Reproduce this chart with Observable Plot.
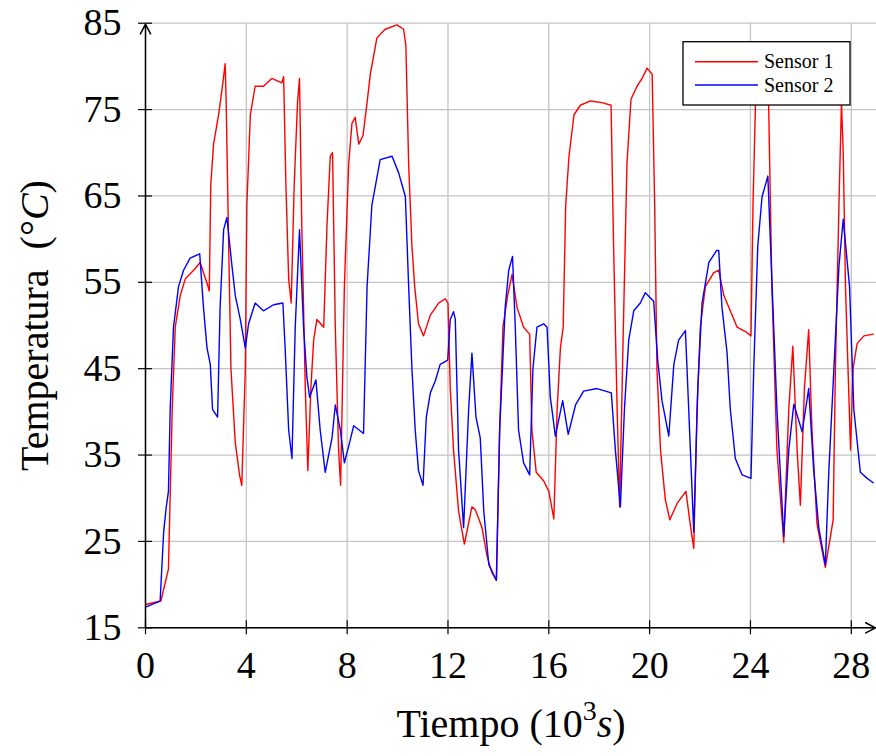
<!DOCTYPE html>
<html>
<head>
<meta charset="utf-8">
<script src="https://cdn.jsdelivr.net/npm/d3@7"></script>
<script src="https://cdn.jsdelivr.net/npm/@observablehq/plot@0.6"></script>
<style>
  html, body { margin: 0; padding: 0; background: #fff; }
  #chart { width: 876px; height: 756px; }
  #chart svg, #chart svg text { font-family: "Liberation Serif", "Times New Roman", "DejaVu Serif", serif !important; }
</style>
</head>
<body>
<div id="chart"></div>
<script>
// ---- data (time in 10^3 s, temperature in °C) ----
const seriesNames = ["Sensor 1", "Sensor 2"];
const seriesColors = ["#ff0000", "#0000ff"];

const s1Time = [0,0.3,0.61,0.91,1.06,1.18,1.38,1.58,1.91,2.17,2.3,2.43,2.53,2.59,2.7,2.9,3.03,3.16,3.2,3.3,3.39,3.56,3.73,3.82,3.96,4.02,4.16,4.35,4.68,5.01,5.41,5.48,5.57,5.68,5.78,5.9,6.03,6.11,6.2,6.34,6.44,6.56,6.67,6.8,7.07,7.2,7.33,7.42,7.53,7.66,7.74,7.89,8.06,8.19,8.32,8.46,8.63,8.79,8.92,9.18,9.51,9.98,10.24,10.33,10.44,10.57,10.68,10.83,11.03,11.3,11.63,11.89,12.0,12.09,12.22,12.42,12.65,12.95,13.08,13.35,13.55,13.74,13.92,14.05,14.18,14.37,14.54,14.74,15.0,15.24,15.33,15.5,15.8,16.0,16.2,16.33,16.46,16.57,16.67,16.8,17.0,17.25,17.65,18.11,18.47,18.57,18.71,18.81,18.94,19.1,19.26,19.5,19.7,19.9,20.1,20.2,20.29,20.43,20.62,20.8,21.09,21.44,21.61,21.75,21.88,22.01,22.21,22.54,22.74,22.94,23.2,23.47,23.8,24.02,24.1,24.2,24.3,24.5,24.65,24.72,24.85,25.05,25.32,25.52,25.68,25.85,25.98,26.14,26.31,26.44,26.64,26.97,27.28,27.37,27.51,27.61,27.68,27.77,27.97,28.07,28.23,28.5,28.87];
const s1Temp = [17.7,17.9,18.1,21.8,40.3,49.8,53.5,55.4,56.4,57.3,56.1,55,54,66.3,71,74.4,77.2,80.3,76,59.2,45,36.5,32.7,31.5,45,63.9,74.4,77.7,77.7,78.6,78.1,78.8,66.3,55.4,52.6,66.3,75.8,78.6,61.6,42.7,33.2,42.7,48.3,50.7,49.8,61.6,69.6,70,49.8,35.6,31.5,54.5,68.7,73.4,74.1,71.0,72.0,75.8,79.1,83.3,84.3,84.8,84.3,82.4,68.7,59.2,54.5,50.2,48.8,51.2,52.6,53.1,52.6,42.7,35.6,28.5,24.7,29,28.7,26.6,23.3,21.4,20.5,37.9,49.8,53.5,55.9,52.1,49.8,49,37.9,33,32,30.8,27.6,40.3,47.4,49.8,63.9,69.6,74.4,75.5,76.0,75.8,75.5,59.2,40.3,29,47.4,68.7,76.2,77.7,78.6,79.8,79.1,63.9,45,35.6,29.9,27.5,29.4,30.8,27,24.2,40.3,49.8,54.5,56.1,56.4,53.5,51.7,49.8,49.3,48.8,63.9,75.8,80,81.5,80,75.8,54.5,35.6,24.9,40.3,47.6,35.6,29.2,42.7,49.5,37.9,27,22,27.5,45,63.9,75.8,70,54.5,35.6,45,47.9,48.8,49];

const s2Time = [0,0.58,0.72,0.82,0.91,0.98,1.11,1.31,1.51,1.77,2.15,2.3,2.44,2.57,2.66,2.86,2.96,3.1,3.23,3.43,3.56,3.76,3.96,4.09,4.35,4.68,5.08,5.45,5.54,5.68,5.81,5.94,6.11,6.27,6.4,6.51,6.76,6.93,7.13,7.4,7.53,7.73,7.89,8.06,8.26,8.65,8.79,8.98,9.31,9.78,10.04,10.31,10.44,10.57,10.7,10.83,11.01,11.14,11.3,11.5,11.69,11.99,12.09,12.22,12.29,12.42,12.62,12.82,12.95,13.11,13.28,13.42,13.62,13.92,14.05,14.27,14.41,14.56,14.67,14.8,15.0,15.24,15.37,15.53,15.8,15.93,16.06,16.26,16.55,16.77,17.06,17.38,17.91,18.48,18.64,18.84,19.0,19.17,19.37,19.63,19.83,20.16,20.32,20.49,20.76,20.96,21.15,21.42,21.55,21.75,21.91,22.08,22.35,22.66,22.74,22.87,23.07,23.2,23.4,23.67,24.02,24.13,24.29,24.46,24.69,24.86,25.05,25.32,25.52,25.72,26.05,26.31,26.51,26.71,26.97,27.11,27.31,27.51,27.68,27.93,28.1,28.36,28.63,28.87];
const s2Temp = [17.4,18.1,26.1,28.9,30.8,40.3,49.8,54.5,56.4,57.8,58.3,52.1,47.4,45.5,40.3,39.4,52.1,61.1,62.5,56.9,53.5,50.7,47.4,50.2,52.6,51.7,52.4,52.6,47.4,37.9,34.6,49.8,61.1,49.8,44.1,41.7,43.7,37.9,33,37,40.8,37.9,34.1,36.0,38.4,37.5,54.5,63.9,69.2,69.6,67.7,64.9,54.5,45,37.9,33.2,31.5,39.4,42.2,43.6,45.5,46,50.7,51.6,50.7,35.6,26.6,40.3,46.8,39.4,37,28.5,22.3,20.5,37.9,52.1,56.4,58,49.8,37.9,34.1,32.7,45,49.8,50.2,49.8,41.7,37.2,41.3,37.4,40.8,42.4,42.7,42.2,35.6,29,40.3,48.3,51.7,52.6,53.8,52.8,46,41.3,37.2,45.5,48.3,49.4,40.3,26.1,42.7,52.6,57.3,58.7,58.7,52.1,46.9,40.3,34.6,32.7,32.3,45,59.2,64.9,67.3,54.5,40.3,25.6,35.6,40.9,37.7,42.7,33.2,26.6,22.3,33.2,45,56.9,62.3,54.5,40.3,33,32.3,31.8];

const xTicks = [0, 4, 8, 12, 16, 20, 24, 28];
const yTicks = [15, 25, 35, 45, 55, 65, 75, 85];
const xDomain = [0, 29];
const yDomain = [15, 85];
const xLabel = "Tiempo (10³s)";
const yLabel = "Temperatura (°C)";

// ---- build tables ----
const s1 = s1Time.map((t, i) => ({t, v: s1Temp[i]}));
const s2 = s2Time.map((t, i) => ({t, v: s2Temp[i]}));
const axisLines = [
  {x1: xDomain[0], y1: yDomain[0], x2: xDomain[1], y2: yDomain[0]},
  {x1: xDomain[0], y1: yDomain[0], x2: xDomain[0], y2: yDomain[1]}
];

const serif = "Liberation Serif, Times New Roman, DejaVu Serif, serif";
const gridStyle = {stroke: "#c4c4c4", strokeOpacity: 1, strokeWidth: 1.3};

const chart = Plot.plot({
  width: 876,
  height: 756,
  marginLeft: 145,
  marginRight: 0,
  marginTop: 22.7,
  marginBottom: 128.7,
  x: {domain: xDomain},
  y: {domain: yDomain},
  style: {background: "#fff", color: "#000", overflow: "visible"},
  marks: [
    Plot.gridX({ticks: xTicks, ...gridStyle}),
    Plot.gridY({ticks: yTicks, ...gridStyle}),
    Plot.line(s1, {x: "t", y: "v", stroke: seriesColors[0], strokeWidth: 1.4}),
    Plot.line(s2, {x: "t", y: "v", stroke: seriesColors[1], strokeWidth: 1.4}),
    Plot.axisX({ticks: xTicks, tickSize: 14, dy: -7, tickFormat: () => "", label: null, strokeWidth: 1.2}),
    Plot.axisY({ticks: yTicks, tickSize: 14, dx: 7, tickFormat: () => "", label: null, strokeWidth: 1.2}),
    Plot.axisX({ticks: xTicks, tickSize: 0, tickPadding: 23, fontSize: 38, label: null}),
    Plot.axisY({ticks: yTicks, tickSize: 0, tickPadding: 24, fontSize: 38, label: null}),
    Plot.arrow(axisLines, {x1: "x1", y1: "y1", x2: "x2", y2: "y2", stroke: "#000", strokeWidth: 1.5, headLength: 11, headAngle: 55, insetEnd: 1}),
    Plot.text([xLabel], {text: d => d, frameAnchor: "bottom", textAnchor: "middle", lineAnchor: "middle", dy: 96, fontSize: 40, className: "xlab"}),
    Plot.text([yLabel], {text: d => d, frameAnchor: "left", textAnchor: "middle", lineAnchor: "middle", dx: -110, rotate: -90, fontSize: 40, className: "ylab"})
  ]
});

document.getElementById("chart").appendChild(chart);

// rich text for axis labels (superscript / italic)
const svg = d3.select(chart);
svg.attr("font-family", serif);
const xt = svg.select(".xlab text");
xt.text(null);
xt.append("tspan").text("Tiempo (10");
xt.append("tspan").attr("font-size", 28).attr("dy", "-0.6em").text("3");
xt.append("tspan").attr("font-style", "italic").attr("dy", "0.42em").text("s");
xt.append("tspan").text(")");

const yt = svg.select(".ylab text");
yt.text(null);
yt.append("tspan").text("Temperatura\u2002(");
yt.append("tspan").text("°");
yt.append("tspan").attr("font-style", "italic").text("C");
yt.append("tspan").text(")");

// legend
const lg = svg.append("g").attr("class", "legend");
lg.append("rect").attr("x", 683).attr("y", 41.7).attr("width", 167).attr("height", 63.3)
  .attr("fill", "#fff").attr("stroke", "#000").attr("stroke-width", 1.3);
seriesNames.forEach((name, i) => {
  const yy = 61.7 + i * 23.3;
  lg.append("line").attr("x1", 695).attr("x2", 758).attr("y1", yy).attr("y2", yy)
    .attr("stroke", seriesColors[i]).attr("stroke-width", 1.4);
  lg.append("text").attr("x", 764).attr("y", yy + 6.5).attr("text-anchor", "start")
    .attr("font-size", 20).attr("fill", "#000").text(name);
});
</script>
</body>
</html>
